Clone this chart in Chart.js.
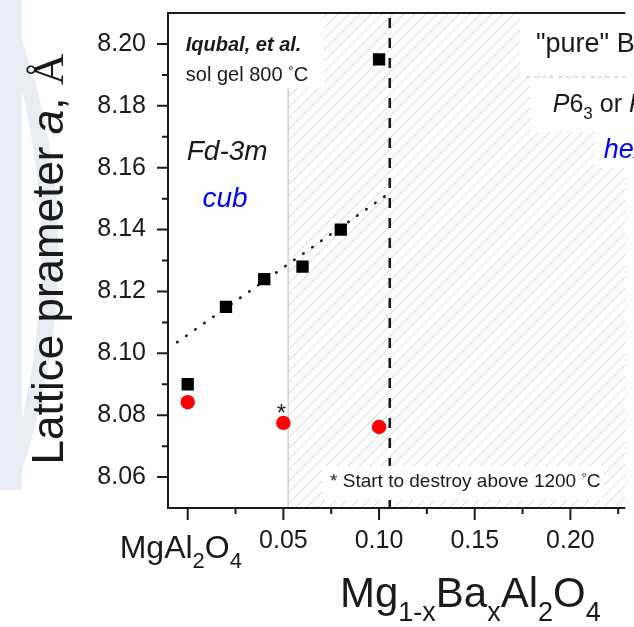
<!DOCTYPE html>
<html>
<head>
<meta charset="utf-8">
<script src="https://cdn.jsdelivr.net/npm/chart.js@4.4.1/dist/chart.umd.min.js"></script>
<style>
  html, body { margin: 0; padding: 0; background: #fff; }
  canvas { display: block; }
</style>
</head>
<body>
<canvas id="grafico" width="634" height="627"></canvas>
<script>
// Mg(1-x)Ba(x)Al2O4 : parámetro de red a (Å) frente a x
const xCuadrados = [0, 0.02, 0.04, 0.06, 0.08, 0.10];
const yCuadrados = [8.090, 8.115, 8.124, 8.128, 8.140, 8.195];

const xCirculos = [0, 0.05, 0.10];
const yCirculos = [8.0842, 8.0775, 8.0762];

// recta punteada de tendencia (extremos)
const xTendencia = [-0.0055, 0.107];
const yTendencia = [8.1036, 8.1525];

const xLimite = 0.1056;       // línea discontinua vertical
const xInicioTrama = 0.0525;  // comienzo de la zona rayada

const ticksXMayores = [0, 0.05, 0.10, 0.15, 0.20];
const etiquetasX = ['MgAl2O4', '0.05', '0.10', '0.15', '0.20'];
const ticksXMenores = [0.025, 0.075, 0.125, 0.175, 0.225];

const ticksYMayores = [8.06, 8.08, 8.10, 8.12, 8.14, 8.16, 8.18, 8.20];
const etiquetasY = ['8.06', '8.08', '8.10', '8.12', '8.14', '8.16', '8.18', '8.20'];
const ticksYMenores = [8.07, 8.09, 8.11, 8.13, 8.15, 8.17, 8.19];

const X_MIN = -0.0103, X_MAX = 0.2287;
const Y_MIN = 8.05, Y_MAX = 8.21;

const FUENTE = '"Liberation Sans", Arial, sans-serif';
const SERIF = '"Liberation Serif", "Times New Roman", serif';
const TINTA = '#1a1a1a';

function puntos(xs, ys) {
  return xs.map((x, i) => ({ x, y: ys[i] }));
}

function buscar(lista, v) {
  return lista.findIndex(t => Math.abs(t - v) < 1e-9);
}

// trama diagonal gris
function crearTrama(ctx) {
  const s = 11;
  const c = document.createElement('canvas');
  c.width = s; c.height = s;
  const g = c.getContext('2d');
  g.strokeStyle = '#d2d2d2';
  g.lineWidth = 1;
  g.beginPath();
  g.moveTo(-1, s + 1); g.lineTo(s + 1, -1);
  g.moveTo(-s / 2 - 1, s / 2 + 1); g.lineTo(s / 2 + 1, -s / 2 - 1);
  g.moveTo(s / 2 - 1, s * 1.5 + 1); g.lineTo(s * 1.5 + 1, s / 2 - 1);
  g.stroke();
  return ctx.createPattern(c, 'repeat');
}

// escribe trozos de texto seguidos: [texto, fuente, bajada, color]
function escribir(ctx, x, y, partes) {
  let cx = x;
  partes.forEach(([t, f, dy, color]) => {
    ctx.font = f;
    ctx.fillStyle = color || TINTA;
    ctx.fillText(t, cx, y + (dy || 0));
    cx += ctx.measureText(t).width;
  });
  return cx - x;
}

function medir(ctx, partes) {
  let w = 0;
  partes.forEach(([t, f]) => { ctx.font = f; w += ctx.measureText(t).width; });
  return w;
}

// fórmula química con los números en subíndice
function formula(texto, tam, tamSub, bajada) {
  return texto.match(/\d+|\D+/g).map(p =>
    /\d/.test(p) ? [p, `${tamSub}px ${FUENTE}`, bajada] : [p, `${tam}px ${FUENTE}`, 0]);
}

const decoracion = {
  id: 'decoracion',
  beforeDraw(chart) {
    const ctx = chart.ctx;
    ctx.save();
    ctx.fillStyle = '#fff';
    ctx.fillRect(0, 0, chart.width, chart.height);
    // marca de agua azulada a la izquierda
    ctx.fillStyle = '#e8ecf5';
    ctx.fillRect(0, 0, 22, 490);
    ctx.beginPath();
    ctx.moveTo(22, 40);
    ctx.quadraticCurveTo(95, 250, 22, 470);
    ctx.lineTo(22, 420);
    ctx.quadraticCurveTo(60, 250, 22, 90);
    ctx.closePath();
    ctx.fill();
    ctx.restore();
  },
  afterDatasetsDraw(chart) {
    const ctx = chart.ctx;
    const X = v => chart.scales.x.getPixelForValue(v);
    const Y = v => chart.scales.y.getPixelForValue(v);
    const f = (estilo, tam) => `${estilo} ${tam}px ${FUENTE}`;
    ctx.save();
    ctx.textBaseline = 'alphabetic';
    ctx.textAlign = 'left';

    // cajas blancas tras los rótulos
    const caja = (x0, x1, y0, y1) => {
      ctx.fillStyle = '#fff';
      ctx.fillRect(X(x0), Y(y0), X(x1) - X(x0), Y(y1) - Y(y0));
    };
    caja(X_MIN, 0.0713, Y_MAX, 8.1859);
    caja(0.0703, 0.2174, 8.0636, 8.0526);
    caja(0.1738, X_MAX, Y_MAX, 8.1900);
    caja(0.1790, X_MAX, 8.1887, 8.1715);
    caja(0.2128, X_MAX, 8.1715, 8.1599);

    ctx.strokeStyle = '#d0d0d0';
    ctx.lineWidth = 1.5;
    ctx.setLineDash([3, 5]);
    ctx.beginPath();
    ctx.moveTo(X(0.1770), Y(8.1893));
    ctx.lineTo(X(X_MAX), Y(8.1893));
    ctx.stroke();
    ctx.setLineDash([]);

    escribir(ctx, X(-0.001), Y(8.1977), [['Iqubal, et al.', f('italic bold', 20)]]);
    escribir(ctx, X(-0.001), Y(8.1880), [['sol gel 800 ', f('', 20)], ['°', f('', 14), -5], ['C', f('', 20)]]);
    escribir(ctx, X(-0.0005), Y(8.1625), [['Fd-3m', f('italic', 28)]]);
    escribir(ctx, X(0.0077), Y(8.1473), [['cub', f('italic', 28), 0, '#0000ff']]);

    ctx.textAlign = 'center';
    escribir(ctx, X(0.049), Y(8.0781), [['*', f('', 24)]]);
    ctx.textAlign = 'left';

    escribir(ctx, X(0.0744), Y(8.0568),
      [['* Start to destroy above 1200 ', f('', 19)], ['°', f('', 13), -5], ['C', f('', 19)]]);

    escribir(ctx, X(0.182), Y(8.1974),
      [['"pure" ', f('', 27)]].concat(formula('BaAl2O4', 27, 18, 7)));
    escribir(ctx, X(0.1908), Y(8.178), [
      ['P', f('italic', 25)], ['6', f('', 25)], ['3', f('', 17), 7], [' or ', f('', 25)],
      ['P', f('italic', 25)], ['6', f('', 25)], ['3', f('', 17), 7], ['22', f('', 25)]
    ]);
    escribir(ctx, X(0.2174), Y(8.1631), [['hex', f('italic', 27), 0, '#0000ff']]);
    ctx.restore();
  },
  afterDraw(chart) {
    const ctx = chart.ctx;
    const a = chart.chartArea;
    const X = v => chart.scales.x.getPixelForValue(v);
    const Y = v => chart.scales.y.getPixelForValue(v);
    ctx.save();
    ctx.strokeStyle = TINTA;
    ctx.lineWidth = 2;
    ctx.beginPath();
    // marco: izquierda, abajo y arriba (el borde derecho queda fuera)
    ctx.moveTo(a.left, a.top); ctx.lineTo(a.left, a.bottom);
    ctx.moveTo(a.left - 1, a.bottom); ctx.lineTo(a.right, a.bottom);
    ctx.moveTo(a.left - 1, a.top); ctx.lineTo(a.right, a.top);
    // marcas de los ejes
    ticksXMayores.forEach(v => { ctx.moveTo(X(v), a.bottom); ctx.lineTo(X(v), a.bottom + 12); });
    ticksXMenores.forEach(v => { ctx.moveTo(X(v), a.bottom); ctx.lineTo(X(v), a.bottom + 6); });
    ticksYMayores.forEach(v => { ctx.moveTo(a.left, Y(v)); ctx.lineTo(a.left - 11, Y(v)); });
    ticksYMenores.forEach(v => { ctx.moveTo(a.left, Y(v)); ctx.lineTo(a.left - 6, Y(v)); });
    ctx.stroke();

    ctx.textBaseline = 'alphabetic';
    ctx.textAlign = 'left';
    // etiqueta del x = 0 con subíndices
    escribir(ctx, X(0) - 68, a.bottom + 50, formula(etiquetasX[0], 32, 22, 10));

    // título eje X
    escribir(ctx, 340, a.bottom + 99, [
      ['Mg', `42px ${FUENTE}`], ['1-x', `27px ${FUENTE}`, 14], ['Ba', `42px ${FUENTE}`],
      ['x', `27px ${FUENTE}`, 14], ['Al', `42px ${FUENTE}`], ['2', `27px ${FUENTE}`, 14],
      ['O', `42px ${FUENTE}`], ['4', `27px ${FUENTE}`, 14]
    ]);

    // título eje Y (rotado)
    const partesY = [
      ['Lattice prameter ', `44px ${FUENTE}`], ['a', `italic 44px ${FUENTE}`],
      [', ', `44px ${FUENTE}`], ['Å', `44px ${SERIF}`]
    ];
    const w = medir(ctx, partesY);
    ctx.translate(63, 259);
    ctx.rotate(-Math.PI / 2);
    escribir(ctx, -w / 2, 0, partesY);
    ctx.restore();
  }
};

function iniciarGrafico() {
  const lienzo = document.getElementById('grafico');
  const ctx = lienzo.getContext('2d');
  const trama = crearTrama(ctx);

  new Chart(ctx, {
    type: 'scatter',
    plugins: [decoracion],
    data: {
      datasets: [
        {
          type: 'line',
          data: puntos([xInicioTrama, X_MAX], [Y_MAX, Y_MAX]),
          backgroundColor: trama,
          fill: 'start',
          borderWidth: 0,
          pointRadius: 0,
          order: 6
        },
        {
          type: 'line',
          data: puntos([xInicioTrama, xInicioTrama], [Y_MIN, Y_MAX]),
          borderColor: '#cfcfcf',
          borderWidth: 1.5,
          pointRadius: 0,
          fill: false,
          order: 5
        },
        {
          type: 'line',
          data: puntos([xLimite, xLimite], [Y_MIN, Y_MAX]),
          borderColor: '#1a1a1a',
          borderWidth: 2.6,
          borderDash: [10, 10],
          pointRadius: 0,
          fill: false,
          order: 4
        },
        {
          type: 'line',
          data: puntos(xTendencia, yTendencia),
          borderColor: '#1a1a1a',
          borderWidth: 2.6,
          borderDash: [0.5, 10.5],
          borderCapStyle: 'round',
          pointRadius: 0,
          fill: false,
          order: 3
        },
        {
          data: puntos(xCuadrados, yCuadrados),
          pointStyle: 'rect',
          pointRadius: 8.7,
          pointBackgroundColor: '#000',
          pointBorderWidth: 0,
          order: 2
        },
        {
          data: puntos(xCirculos, yCirculos),
          pointStyle: 'circle',
          pointRadius: 7.2,
          pointBackgroundColor: '#ff0000',
          pointBorderWidth: 0,
          order: 1
        }
      ]
    },
    options: {
      responsive: false,
      animation: false,
      devicePixelRatio: 1,
      layout: { padding: { top: 13, right: 0, left: 0, bottom: 0 } },
      plugins: {
        legend: { display: false },
        tooltip: { enabled: false }
      },
      scales: {
        x: {
          type: 'linear',
          min: X_MIN,
          max: X_MAX,
          afterBuildTicks: s => {
            s.ticks = ticksXMayores.concat(ticksXMenores).sort((p, q) => p - q).map(v => ({ value: v }));
          },
          afterFit: s => { s.height = 119; s.paddingLeft = 0; s.paddingRight = 0; },
          grid: { display: false, drawTicks: false },
          border: { display: false },
          ticks: {
            autoSkip: false,
            maxRotation: 0,
            padding: 18,
            color: TINTA,
            font: { family: FUENTE, size: 25 },
            callback: v => {
              const i = buscar(ticksXMayores, v);
              return i > 0 ? etiquetasX[i] : '';
            }
          }
        },
        y: {
          type: 'linear',
          min: Y_MIN,
          max: Y_MAX,
          afterBuildTicks: s => {
            s.ticks = ticksYMayores.concat(ticksYMenores).sort((p, q) => p - q).map(v => ({ value: v }));
          },
          afterFit: s => { s.width = 168; s.paddingTop = 0; s.paddingBottom = 0; },
          grid: { display: false, drawTicks: false },
          border: { display: false },
          ticks: {
            autoSkip: false,
            padding: 22,
            color: TINTA,
            font: { family: FUENTE, size: 25 },
            callback: v => {
              const i = buscar(ticksYMayores, v);
              return i >= 0 ? etiquetasY[i] : '';
            }
          }
        }
      }
    }
  });
}

window.onload = iniciarGrafico;
</script>
</body>
</html>
